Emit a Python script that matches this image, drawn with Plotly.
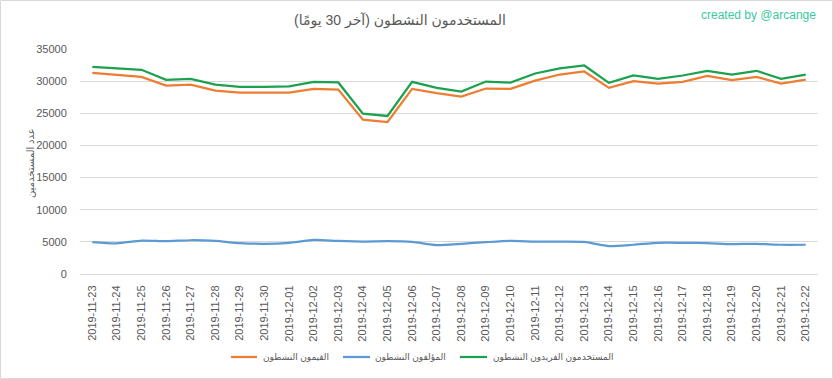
import plotly.graph_objects as go

dates = ["2019-11-23","2019-11-24","2019-11-25","2019-11-26","2019-11-27","2019-11-28","2019-11-29","2019-11-30",
         "2019-12-01","2019-12-02","2019-12-03","2019-12-04","2019-12-05","2019-12-06","2019-12-07","2019-12-08",
         "2019-12-09","2019-12-10","2019-12-11","2019-12-12","2019-12-13","2019-12-14","2019-12-15","2019-12-16",
         "2019-12-17","2019-12-18","2019-12-19","2019-12-20","2019-12-21","2019-12-22"]

curators = [31300, 31030, 30670, 29310, 29470, 28530, 28220, 28220, 28220, 28800, 28690, 24000, 23640, 28800, 28120,
            27600, 28850, 28800, 30090, 31030, 31500, 28950, 30000, 29630, 29890, 30830, 30160, 30670, 29630, 30250]
authors = [4950, 4750, 5200, 5100, 5250, 5150, 4800, 4700, 4850, 5300, 5150, 5050, 5100, 5000, 4500,
           4700, 4950, 5150, 5050, 5050, 5000, 4350, 4550, 4850, 4850, 4800, 4650, 4700, 4550, 4550]
unique = [32230, 31970, 31770, 30200, 30360, 29470, 29110, 29110, 29170, 29890, 29800, 24940, 24580, 29890, 28950,
          28380, 29940, 29780, 31190, 31970, 32440, 29730, 30880, 30360, 30880, 31610, 31030, 31610, 30360, 31030]

y_ticks = [0, 5000, 10000, 15000, 20000, 25000, 30000, 35000]

name_cur = "القيمون النشطون"
name_aut = "المؤلفون النشطون"
name_uni = "المستخدمون الفريدون النشطون"
title = "المستخدمون النشطون (آخر 30 يومًا)"
ytitle = "عدد المستخدمين"

c_cur = "#ED7D31"
c_aut = "#5B9BD5"
c_uni = "#1BA14F"

W, H = 833, 379
L, R, T, B = 80, 15, 49, 105
pw, ph = W - L - R, H - T - B

def px(x):
    return (x - L) / pw

def py(y):
    return (H - B - y) / ph

FONT = "Liberation Sans, DejaVu Sans, sans-serif"
GRAY = "#595959"

fig = go.Figure()
fig.add_trace(go.Scatter(x=dates, y=curators, mode="lines", name=name_cur,
                         line=dict(color=c_cur, width=2.25)))
fig.add_trace(go.Scatter(x=dates, y=authors, mode="lines", name=name_aut,
                         line=dict(color=c_aut, width=2.25, shape="spline", smoothing=0.6)))
fig.add_trace(go.Scatter(x=dates, y=unique, mode="lines", name=name_uni,
                         line=dict(color=c_uni, width=2.25)))

annotations = [
    dict(text=title, x=px(400), y=py(20), xref="paper", yref="paper", showarrow=False,
         xanchor="center", yanchor="middle", font=dict(size=14, color=GRAY, family=FONT)),
    dict(text="created by @arcange", x=px(818), y=py(15), xref="paper", yref="paper", showarrow=False,
         xanchor="right", yanchor="middle", font=dict(size=12, color="#3CC8A0", family=FONT)),
    dict(text=ytitle, x=px(30), y=py(163), xref="paper", yref="paper", showarrow=False, textangle=-90,
         xanchor="center", yanchor="middle", font=dict(size=10, color=GRAY, family=FONT)),
]
shapes = [
    dict(type="rect", xref="paper", yref="paper", x0=px(0.5), x1=px(W - 0.5), y0=py(H - 0.5), y1=py(0.5),
         line=dict(color="#D9D9D9", width=1), fillcolor="rgba(0,0,0,0)", layer="below"),
]

legend_items = [(c_cur, name_cur, 231, 257, 261), (c_aut, name_aut, 343, 370, 373), (c_uni, name_uni, 460, 487, 491)]
for col, nm, lx0, lx1, tx in legend_items:
    shapes.append(dict(type="line", xref="paper", yref="paper", x0=px(lx0), x1=px(lx1), y0=py(357), y1=py(357),
                       line=dict(color=col, width=2.25)))
    annotations.append(dict(text=nm, x=px(tx), y=py(357), xref="paper", yref="paper", showarrow=False,
                            xanchor="left", yanchor="middle", font=dict(size=9, color=GRAY, family=FONT)))

fig.update_layout(
    width=W, height=H,
    margin=dict(l=L, r=R, t=T, b=B, pad=0, autoexpand=False),
    paper_bgcolor="white", plot_bgcolor="white",
    showlegend=False,
    font=dict(family=FONT, color=GRAY, size=11),
    annotations=annotations,
    shapes=shapes,
    xaxis=dict(type="category", tickangle=-90, tickfont=dict(size=11, color=GRAY, family=FONT),
               showgrid=False, showline=True, linecolor="#D9D9D9", linewidth=1, automargin=False,
               ticks="outside", ticklen=6, tickcolor="rgba(0,0,0,0)",
               range=[-0.5, len(dates) - 0.5], fixedrange=True),
    yaxis=dict(range=[0, 35000], tickvals=y_ticks, ticktext=[str(v) for v in y_ticks],
               tickfont=dict(size=11, color=GRAY, family=FONT), automargin=False,
               showgrid=True, gridcolor="#D9D9D9", gridwidth=1, zeroline=False,
               showline=False, ticks="outside", ticklen=10, tickcolor="rgba(0,0,0,0)",
               fixedrange=True),
)

fig.write_html("out.html", config={"displayModeBar": False},
               post_script="document.body.style.margin='0';document.body.style.overflow='hidden';")
